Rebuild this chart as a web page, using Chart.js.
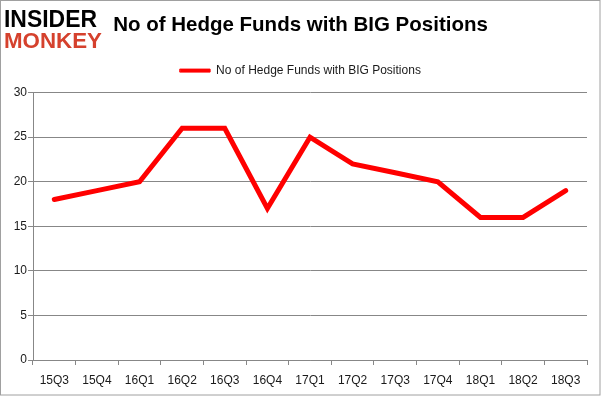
<!DOCTYPE html>
<html>
<head>
<meta charset="utf-8">
<script src="https://cdn.jsdelivr.net/npm/chart.js@4/dist/chart.umd.min.js"></script>
<style>
  html, body { margin: 0; padding: 0; background: #fff; }
  #wrap { width: 601px; height: 396px; position: relative; }
</style>
</head>
<body>
<div id="wrap"><canvas id="grafico"></canvas></div>
<script>
// datos del grafico
const trimestres = ['15Q3', '15Q4', '16Q1', '16Q2', '16Q3', '16Q4', '17Q1', '17Q2', '17Q3', '17Q4', '18Q1', '18Q2', '18Q3'];
const numFondos = [18, 19, 20, 26, 26, 17, 25, 22, 21, 20, 16, 16, 19];
const tituloSerie = 'No of Hedge Funds with BIG Positions';
const tituloGrafico = 'No of Hedge Funds with BIG Positions';
const ticksY = [0, 5, 10, 15, 20, 25, 30];

const FUENTE = '"Liberation Sans", Arial, sans-serif';
const GRIS = '#878787';

// logo y borde dibujados a mano
const logoPlugin = {
    id: 'logo',
    afterDraw(chart) {
        const ctx = chart.ctx;
        ctx.save();
        ctx.strokeStyle = '#a0a0a0';
        ctx.lineWidth = 1;
        ctx.strokeRect(0.5, 0.5, 599.5, 394.5);

        ctx.textBaseline = 'alphabetic';
        ctx.textAlign = 'left';
        // "INSIDER"
        ctx.font = 'bold 24px ' + FUENTE;
        let w = ctx.measureText('INSIDER').width;
        ctx.save();
        ctx.translate(4, 27);
        ctx.scale(93 / w, 1);
        ctx.fillStyle = '#000';
        ctx.fillText('INSIDER', 0, 0);
        ctx.restore();
        // "MONKEY"
        ctx.font = 'bold 22px ' + FUENTE;
        w = ctx.measureText('MONKEY').width;
        ctx.save();
        ctx.translate(4, 48);
        ctx.scale(98 / w, 1);
        ctx.fillStyle = '#d5412d';
        ctx.fillText('MONKEY', 0, 0);
        ctx.restore();
        ctx.restore();
    }
};

const config = {
    type: 'line',
    data: {
        labels: trimestres,
        datasets: [{
            label: tituloSerie,
            data: numFondos,
            borderColor: '#ff0000',
            backgroundColor: '#ff0000',
            borderWidth: 5,
            pointRadius: 0,
            pointHoverRadius: 0,
            tension: 0,
            borderJoinStyle: 'miter',
            borderCapStyle: 'round',
        }]
    },
    options: {
        responsive: false,
        animation: false,
        layout: { padding: { left: 14, right: 14, top: 0, bottom: 0 } },
        plugins: {
            title: {
                display: true,
                text: tituloGrafico,
                color: '#000',
                font: { family: FUENTE, size: 20.5, weight: 'bold' },
                padding: { top: 13, bottom: 5 },
            },
            // espacio vacio entre la leyenda y el grafico
            subtitle: {
                display: true,
                text: '',
                weight: 500,
                font: { size: 6, lineHeight: 1 },
                padding: 0,
            },
            legend: {
                display: true,
                labels: {
                    boxWidth: 30,
                    boxHeight: 3,
                    color: '#1a1a1a',
                    font: { family: FUENTE, size: 12 },
                    padding: 22,
                    generateLabels(chart) {
                        // linea de la leyenda mas delgada que la serie
                        return Chart.defaults.plugins.legend.labels.generateLabels(chart)
                            .map(l => Object.assign(l, { lineWidth: 1 }));
                    },
                },
            },
            tooltip: { enabled: false },
        },
        scales: {
            x: {
                offset: true,
                grid: {
                    offset: true,
                    drawOnChartArea: false,
                    color: GRIS,
                    tickLength: 5,
                },
                border: { color: GRIS },
                ticks: {
                    color: '#1a1a1a',
                    font: { family: FUENTE, size: 12 },
                    padding: 8,
                    maxRotation: 0,
                    autoSkip: false,
                },
                afterFit(scale) { scale.height = 36; },
            },
            y: {
                min: 0,
                max: 30,
                afterBuildTicks(scale) {
                    scale.ticks = ticksY.map(v => ({ value: v }));
                },
                grid: {
                    color: GRIS,
                    tickLength: 5,
                },
                border: { color: GRIS },
                ticks: {
                    color: '#1a1a1a',
                    font: { family: FUENTE, size: 12 },
                    padding: 1,
                },
                afterFit(scale) { scale.width = 19; },
            },
        },
    },
    plugins: [logoPlugin],
};

const canvas = document.getElementById('grafico');
canvas.width = 601;
canvas.height = 396;
const grafico = new Chart(canvas.getContext('2d'), config);
</script>
</body>
</html>
